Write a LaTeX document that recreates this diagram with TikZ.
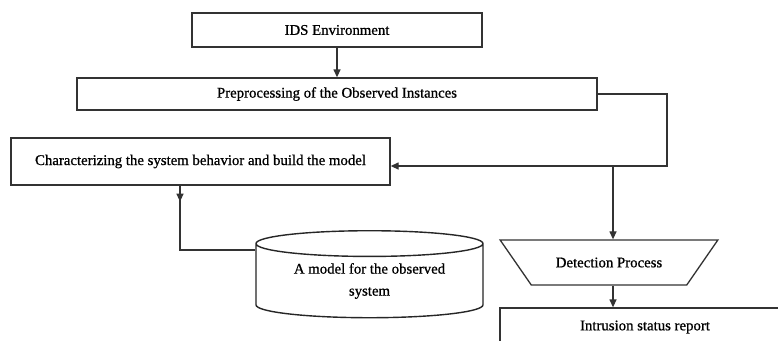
\documentclass[tikz,border=0pt]{standalone}
\usepackage{fontspec}
\setmainfont{Liberation Serif}[FakeBold=0.8]
\usetikzlibrary{arrows.meta,shapes.geometric,decorations.markings}
\begin{document}
\begin{tikzpicture}[x=1pt,y=-1pt,font=\fontsize{14.8}{22}\selectfont,
  line width=1.3pt,
  box/.style={draw=black!80,rectangle,inner sep=0pt},
  arr/.style={draw=black!80,-{Triangle[length=8pt,width=7pt]}},
  link/.style={draw=black!80}]
\clip (0,0) rectangle (778,340);
\fill[white] (0,0) rectangle (778,340);
% boxes of the flow
\node[box,minimum width=290,minimum height=34] (ids) at (337,30) {IDS Environment};
\node[box,minimum width=520,minimum height=32] (prep) at (337,94) {Preprocessing of the Observed Instances};
\node[box,minimum width=379,minimum height=47] (charac) at (200.5,161.5) {Characterizing the system behavior and build the model};
\node[draw=black!85,line width=1.4pt,cylinder,shape border rotate=90,aspect=0.17,minimum width=227,
  minimum height=87,inner sep=0pt,align=center] (model) at (369.5,281) {A model for the observed\\system};
\node[draw=black!80,trapezium,trapezium stretches=true,shape border rotate=180,trapezium angle=25,
  minimum width=218,minimum height=45,inner sep=0pt] (detect) at (609,262.5) {Detection Process};
\node[box,minimum width=290,minimum height=38] (report) at (645,327) {Intrusion status report};
% connectors
\coordinate (turn) at (667,166);
\coordinate (split) at (613,166);
\coordinate (bend) at (180,250);
\draw[arr] (ids) -- (prep);
\draw[arr] (prep.east) -| (turn) -- (turn -| charac.east);
\draw[arr] (split) -- (split |- detect.north);
\draw[arr] (split |- detect.south) -- (split |- report.north);
\draw[link,decoration={markings,mark=at position 16pt with {\arrow{Triangle[length=8pt,width=7pt]}}},
  postaction={decorate}] (charac.south -| bend) -- (bend) -- (bend -| model.west);
\end{tikzpicture}
\end{document}
